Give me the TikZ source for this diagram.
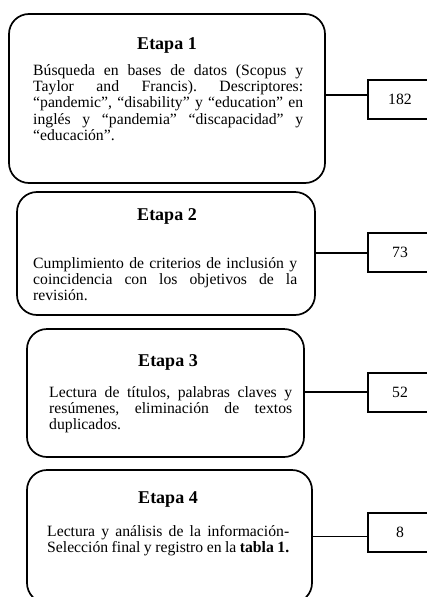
\documentclass[tikz,border=0pt]{standalone}
\usepackage{fontspec}
\setmainfont{Liberation Serif}
\frenchspacing
\begin{document}
\begin{tikzpicture}[x=1pt,y=-1pt,
  stagebox/.style={draw, line width=1.7pt, rounded corners=20pt, inner sep=0pt},
  numbox/.style={draw, line width=1.2pt, inner sep=0pt, minimum width=64pt, minimum height=39pt, font=\fontsize{15.7}{17}\selectfont},
  conn/.style={line width=1.2pt},
  head/.style={font=\fontsize{18}{20}\selectfont\bfseries, inner sep=0pt, anchor=base},
  body/.style={font=\fontsize{15.7}{16.2}\selectfont\frenchspacing, inner sep=0pt, anchor=base west, align=justify}
]
\useasboundingbox (0,0) rectangle (427,597);
\clip (0,0) rectangle (427,597);
% stage boxes
\node[stagebox, minimum width=316pt, minimum height=169pt] (b1) at (167,98.5) {};
\node[stagebox, minimum width=298pt, minimum height=123pt] (b2) at (166,253.5) {};
\node[stagebox, minimum width=277pt, minimum height=128pt] (b3) at (165.5,393) {};
\node[stagebox, minimum width=285pt, minimum height=133pt] (b4) at (169.5,536.5) {};
% headings
\node[head] (h1) at (167,49) {Etapa 1};
\node[head] (h2) at (167,220) {Etapa 2};
\node[head] (h3) at (168,366) {Etapa 3};
\node[head] (h4) at (168,503) {Etapa 4};
% bodies
\node[body, text width=270pt] (t1) at (33,75.5) {Búsqueda en bases de datos (Scopus y\linebreak Taylor and Francis). Descriptores:\linebreak “pandemic”, “disability” y “education” en\linebreak inglés y “pandemia” “discapacidad” y\linebreak “educación”.};
\node[body, text width=264pt] (t2) at (33,268) {Cumplimiento de criterios de inclusión y\linebreak coincidencia con los objetivos de la\linebreak revisión.};
\node[body, text width=243pt] (t3) at (49,397.5) {Lectura de títulos, palabras claves y\linebreak resúmenes, eliminación de textos\linebreak duplicados.};
\node[body, text width=242pt] (t4) at (47,536) {Lectura y análisis de la información-\linebreak Selección final y registro en la \textbf{tabla 1.}};
% number boxes
\node[numbox] (n1) at (400,99.5) {182};
\node[numbox] (n2) at (400,252.5) {73};
\node[numbox] (n3) at (400,392.5) {52};
\node[numbox] (n4) at (400,532.5) {8};
% connectors
\coordinate (k1) at ([yshift=4.5pt]n1.west);
\coordinate (k2) at ([yshift=-0.5pt]n2.west);
\coordinate (k3) at ([yshift=0.5pt]n3.west);
\coordinate (k4) at ([yshift=-4pt]n4.west);
\draw[conn] (k1) -- (k1 -| b1.east);
\draw[conn] (k2) -- (k2 -| b2.east);
\draw[conn] (k3) -- (k3 -| b3.east);
\draw[conn] (k4) -- (k4 -| b4.east);
\end{tikzpicture}
\end{document}
